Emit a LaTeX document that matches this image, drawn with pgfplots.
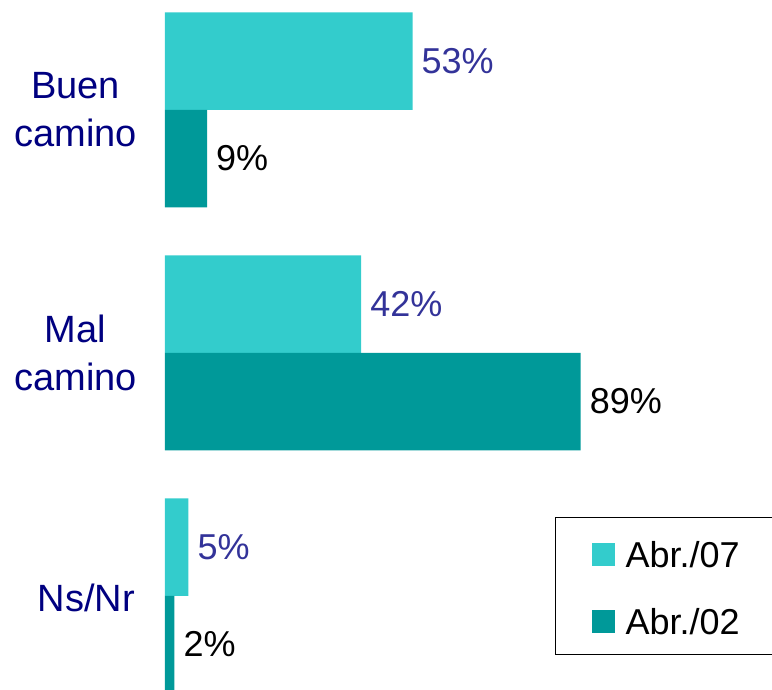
\documentclass[border=0pt]{standalone}
\usepackage{pgfplots}
\pgfplotsset{compat=1.18}
\usepackage{fontspec}
\setmainfont{Liberation Sans}
\definecolor{lightteal}{HTML}{33CCCC}
\definecolor{darkteal}{HTML}{009999}
\definecolor{lblblue}{HTML}{333399}
\definecolor{catblue}{HTML}{000080}
\newcommand{\valf}{\fontsize{36}{40}\selectfont}
\newcommand{\catf}{\fontsize{38}{48}\selectfont}
\begin{document}
\begin{tikzpicture}
\begin{axis}[
  at={(0pt,0pt)}, anchor=south west,
  scale only axis, width=772pt, height=689pt,
  xmin=-35.33, xmax=129.98,
  ymin=0, ymax=689, y dir=reverse,
  axis lines=none, clip=false,
  /pgf/number format/assume math mode=true,
  xbar, bar shift=0pt, bar width=97.5,
  nodes near coords={\pgfmathprintnumber{\pgfplotspointmeta}\%},
  nodes near coords style={anchor=west, inner sep=0pt, xshift=9pt, font=\valf},
  legend style={at={(axis cs:83.5,517)}, anchor=north west, draw=black, line width=1.3pt,
    inner xsep=36pt, inner ysep=15pt, row sep=27pt, font=\valf,
    nodes={inner sep=0pt, text height=34.7pt, text depth=5.3pt},
    /tikz/every odd column/.style={column sep=11pt}},
  legend cell align=left,
  legend image code/.code={\fill[#1, draw=none] (0pt,-13pt) rectangle (23pt,10pt);},
]
\addplot[fill=lightteal, draw=none, nodes near coords style={text=lblblue}]
  coordinates {(53,61) (42,304) (5,547)};
\addlegendentry{Abr./07}
\addplot[fill=darkteal, draw=none, nodes near coords style={text=black}]
  coordinates {(9,158.5) (89,401.5) (2,644.5)};
\addlegendentry{Abr./02\hspace{40pt}}
\node[font=\catf, text=catblue, align=center, anchor=east, inner sep=0pt] at (axis cs:-6.0,110) {Buen\\camino};
\node[font=\catf, text=catblue, align=center, anchor=east, inner sep=0pt] at (axis cs:-6.0,353) {Mal\\camino};
\node[font=\catf, text=catblue, align=center, anchor=east, inner sep=0pt] at (axis cs:-6.4,598) {Ns/Nr};
\end{axis}
\pgfresetboundingbox
\path[use as bounding box] (0pt,0pt) rectangle (772pt,689pt);
\end{tikzpicture}
\end{document}
